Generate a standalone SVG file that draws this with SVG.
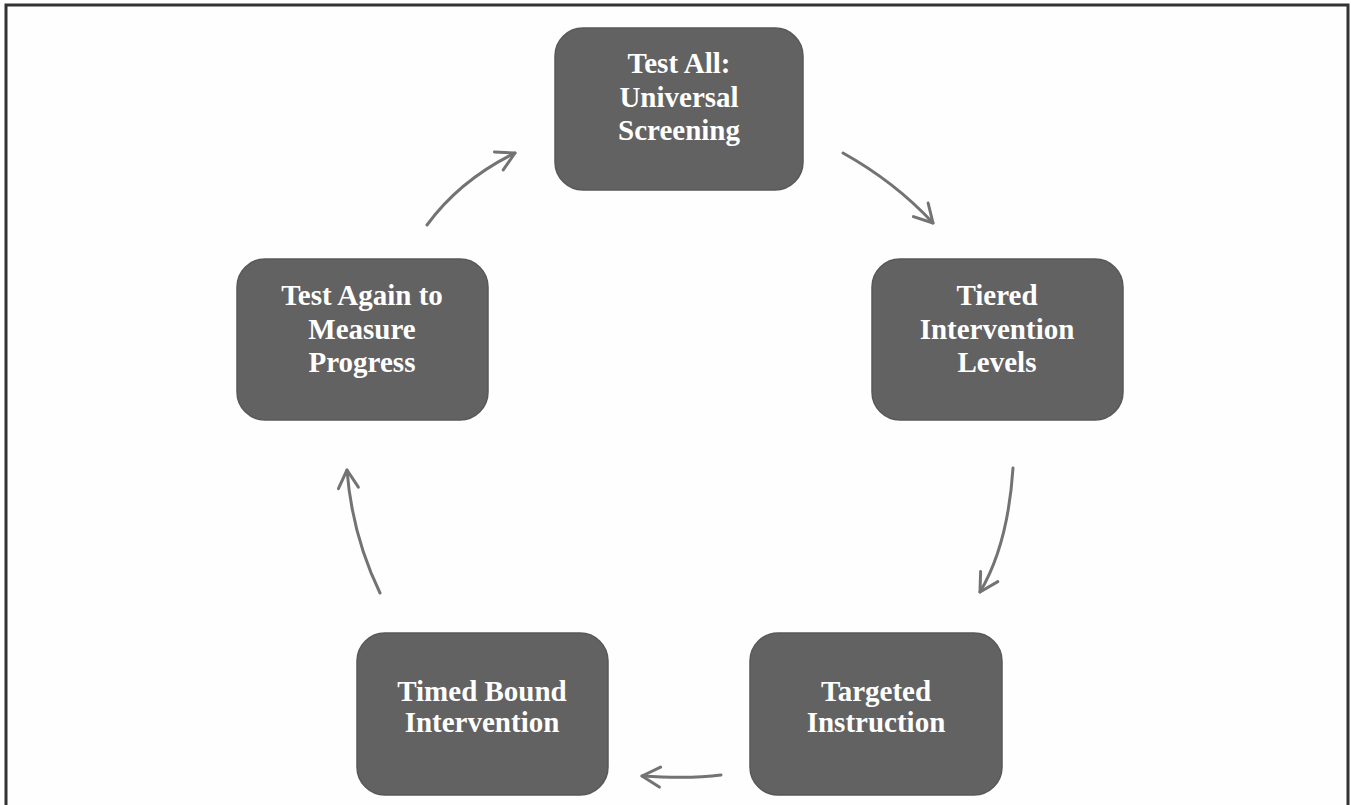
<svg xmlns="http://www.w3.org/2000/svg" width="1351" height="805" viewBox="0 0 1351 805">
  <defs>
    <marker id="ah" viewBox="0 0 24 24" refX="21" refY="12" markerWidth="24" markerHeight="24" markerUnits="userSpaceOnUse" orient="auto">
      <path d="M3,2 L21,12 L3,22" fill="none" stroke="#737373" stroke-width="3" stroke-linecap="round" stroke-linejoin="round"/>
    </marker>
  </defs>
  <style>
    .box { fill: #626262; stroke: #585858; stroke-width: 1.5; }
    .lbl { font-family: "Liberation Serif", "Times New Roman", serif; font-weight: bold; font-size: 29px; fill: #ffffff; text-anchor: middle; }
    .arr { fill: none; stroke: #737373; stroke-width: 3; stroke-linecap: round; marker-end: url(#ah); }
  </style>
  <rect x="0" y="0" width="1351" height="805" fill="#ffffff"/>
  <rect x="6" y="5" width="1342" height="820" fill="#fefefe" stroke="#333333" stroke-width="3"/>

  <g id="connectors">
    <path class="arr" d="M427,225 Q460,180 515,153"/>
    <path class="arr" d="M843,153 Q895,182 933,223"/>
    <path class="arr" d="M1013,468 Q1008,545 980,592"/>
    <path class="arr" d="M721,775 Q690,779 642,776"/>
    <path class="arr" d="M380,593 Q352,535 347,470"/>
  </g>

  <g id="node-screening">
    <rect class="box" x="555" y="28" width="248" height="162" rx="28"/>
    <text class="lbl" x="679" y="73">Test All:</text>
    <text class="lbl" x="679" y="107">Universal</text>
    <text class="lbl" x="679" y="140">Screening</text>
  </g>
  <g id="node-tiered">
    <rect class="box" x="872" y="259" width="251" height="161" rx="28"/>
    <text class="lbl" x="997" y="305">Tiered</text>
    <text class="lbl" x="997" y="339">Intervention</text>
    <text class="lbl" x="997" y="372">Levels</text>
  </g>
  <g id="node-targeted">
    <rect class="box" x="750" y="633" width="252" height="162" rx="28"/>
    <text class="lbl" x="876" y="701">Targeted</text>
    <text class="lbl" x="876" y="732">Instruction</text>
  </g>
  <g id="node-timed">
    <rect class="box" x="357" y="633" width="251" height="162" rx="28"/>
    <text class="lbl" x="482" y="701">Timed Bound</text>
    <text class="lbl" x="482" y="732">Intervention</text>
  </g>
  <g id="node-testagain">
    <rect class="box" x="237" y="259" width="251" height="161" rx="28"/>
    <text class="lbl" x="362" y="305">Test Again to</text>
    <text class="lbl" x="362" y="339">Measure</text>
    <text class="lbl" x="362" y="372">Progress</text>
  </g>
</svg>
